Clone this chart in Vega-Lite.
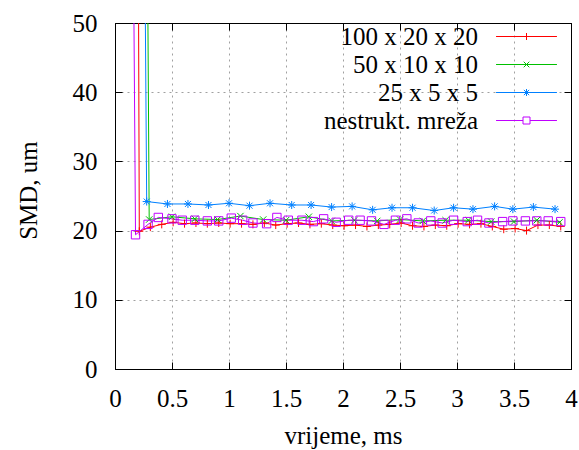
{
  "$schema": "https://vega.github.io/schema/vega-lite/v6.json",
  "width": 456,
  "height": 346,
  "autosize": "none",
  "padding": {"left": 115, "top": 23, "right": 8, "bottom": 81},
  "background": "white",
  "config": {
    "font": "Liberation Serif",
    "view": {"stroke": "#000", "strokeWidth": 1},
    "axis": {"labelFont": "Liberation Serif", "titleFont": "Liberation Serif", "labelFontSize": 25, "titleFontSize": 25, "titleFontWeight": "normal", "labelColor": "#000", "titleColor": "#000", "tickColor": "#000", "domainColor": "#000", "gridColor": "#a0a0a0", "gridDash": [2, 4], "gridWidth": 1, "tickSize": -7, "labelFlush": false},
    "legend": {"labelFont": "Liberation Serif"}
  },
  "data": {"values": [
    {"t": 0.205, "smd": 60, "series": "100 x 20 x 20"},
    {"t": 0.213, "smd": 19.9, "series": "100 x 20 x 20"},
    {"t": 0.31, "smd": 20.5, "series": "100 x 20 x 20"},
    {"t": 0.41, "smd": 20.9, "series": "100 x 20 x 20"},
    {"t": 0.51, "smd": 21.2, "series": "100 x 20 x 20"},
    {"t": 0.61, "smd": 21.0, "series": "100 x 20 x 20"},
    {"t": 0.71, "smd": 21.1, "series": "100 x 20 x 20"},
    {"t": 0.81, "smd": 21.0, "series": "100 x 20 x 20"},
    {"t": 0.91, "smd": 21.1, "series": "100 x 20 x 20"},
    {"t": 1.01, "smd": 21.0, "series": "100 x 20 x 20"},
    {"t": 1.11, "smd": 21.0, "series": "100 x 20 x 20"},
    {"t": 1.21, "smd": 20.9, "series": "100 x 20 x 20"},
    {"t": 1.31, "smd": 21.1, "series": "100 x 20 x 20"},
    {"t": 1.41, "smd": 20.8, "series": "100 x 20 x 20"},
    {"t": 1.51, "smd": 21.0, "series": "100 x 20 x 20"},
    {"t": 1.61, "smd": 21.1, "series": "100 x 20 x 20"},
    {"t": 1.71, "smd": 20.9, "series": "100 x 20 x 20"},
    {"t": 1.81, "smd": 21.0, "series": "100 x 20 x 20"},
    {"t": 1.91, "smd": 20.8, "series": "100 x 20 x 20"},
    {"t": 2.01, "smd": 20.7, "series": "100 x 20 x 20"},
    {"t": 2.11, "smd": 20.8, "series": "100 x 20 x 20"},
    {"t": 2.21, "smd": 20.6, "series": "100 x 20 x 20"},
    {"t": 2.31, "smd": 20.8, "series": "100 x 20 x 20"},
    {"t": 2.41, "smd": 20.9, "series": "100 x 20 x 20"},
    {"t": 2.51, "smd": 21.1, "series": "100 x 20 x 20"},
    {"t": 2.61, "smd": 20.7, "series": "100 x 20 x 20"},
    {"t": 2.71, "smd": 20.6, "series": "100 x 20 x 20"},
    {"t": 2.81, "smd": 20.8, "series": "100 x 20 x 20"},
    {"t": 2.91, "smd": 20.7, "series": "100 x 20 x 20"},
    {"t": 3.01, "smd": 21.0, "series": "100 x 20 x 20"},
    {"t": 3.11, "smd": 20.9, "series": "100 x 20 x 20"},
    {"t": 3.21, "smd": 21.0, "series": "100 x 20 x 20"},
    {"t": 3.31, "smd": 20.6, "series": "100 x 20 x 20"},
    {"t": 3.41, "smd": 20.2, "series": "100 x 20 x 20"},
    {"t": 3.51, "smd": 20.3, "series": "100 x 20 x 20"},
    {"t": 3.61, "smd": 20.0, "series": "100 x 20 x 20"},
    {"t": 3.71, "smd": 20.8, "series": "100 x 20 x 20"},
    {"t": 3.81, "smd": 20.8, "series": "100 x 20 x 20"},
    {"t": 3.91, "smd": 20.6, "series": "100 x 20 x 20"},

    {"t": 0.285, "smd": 60, "series": "50 x 10 x 10"},
    {"t": 0.30, "smd": 21.6, "series": "50 x 10 x 10"},
    {"t": 0.50, "smd": 22.0, "series": "50 x 10 x 10"},
    {"t": 0.70, "smd": 21.7, "series": "50 x 10 x 10"},
    {"t": 0.90, "smd": 21.6, "series": "50 x 10 x 10"},
    {"t": 1.10, "smd": 22.1, "series": "50 x 10 x 10"},
    {"t": 1.30, "smd": 21.6, "series": "50 x 10 x 10"},
    {"t": 1.50, "smd": 21.5, "series": "50 x 10 x 10"},
    {"t": 1.70, "smd": 22.0, "series": "50 x 10 x 10"},
    {"t": 1.90, "smd": 21.4, "series": "50 x 10 x 10"},
    {"t": 2.10, "smd": 21.5, "series": "50 x 10 x 10"},
    {"t": 2.30, "smd": 21.4, "series": "50 x 10 x 10"},
    {"t": 2.50, "smd": 21.6, "series": "50 x 10 x 10"},
    {"t": 2.70, "smd": 21.4, "series": "50 x 10 x 10"},
    {"t": 2.90, "smd": 21.5, "series": "50 x 10 x 10"},
    {"t": 3.10, "smd": 21.5, "series": "50 x 10 x 10"},
    {"t": 3.30, "smd": 21.3, "series": "50 x 10 x 10"},
    {"t": 3.50, "smd": 21.3, "series": "50 x 10 x 10"},
    {"t": 3.70, "smd": 21.5, "series": "50 x 10 x 10"},
    {"t": 3.90, "smd": 21.2, "series": "50 x 10 x 10"},

    {"t": 0.262, "smd": 60, "series": "25 x 5 x 5"},
    {"t": 0.278, "smd": 24.2, "series": "25 x 5 x 5"},
    {"t": 0.46, "smd": 23.85, "series": "25 x 5 x 5"},
    {"t": 0.64, "smd": 23.85, "series": "25 x 5 x 5"},
    {"t": 0.82, "smd": 23.7, "series": "25 x 5 x 5"},
    {"t": 1.00, "smd": 23.95, "series": "25 x 5 x 5"},
    {"t": 1.18, "smd": 23.6, "series": "25 x 5 x 5"},
    {"t": 1.36, "smd": 23.95, "series": "25 x 5 x 5"},
    {"t": 1.55, "smd": 23.7, "series": "25 x 5 x 5"},
    {"t": 1.72, "smd": 23.7, "series": "25 x 5 x 5"},
    {"t": 1.90, "smd": 23.4, "series": "25 x 5 x 5"},
    {"t": 2.08, "smd": 23.5, "series": "25 x 5 x 5"},
    {"t": 2.26, "smd": 23.0, "series": "25 x 5 x 5"},
    {"t": 2.43, "smd": 23.3, "series": "25 x 5 x 5"},
    {"t": 2.61, "smd": 23.3, "series": "25 x 5 x 5"},
    {"t": 2.80, "smd": 22.9, "series": "25 x 5 x 5"},
    {"t": 2.97, "smd": 23.3, "series": "25 x 5 x 5"},
    {"t": 3.14, "smd": 23.1, "series": "25 x 5 x 5"},
    {"t": 3.33, "smd": 23.5, "series": "25 x 5 x 5"},
    {"t": 3.49, "smd": 23.1, "series": "25 x 5 x 5"},
    {"t": 3.67, "smd": 23.4, "series": "25 x 5 x 5"},
    {"t": 3.86, "smd": 23.1, "series": "25 x 5 x 5"},

    {"t": 0.162, "smd": 60, "series": "nestrukt. mreža"},
    {"t": 0.18, "smd": 19.4, "series": "nestrukt. mreža"},
    {"t": 0.29, "smd": 20.9, "series": "nestrukt. mreža"},
    {"t": 0.38, "smd": 21.9, "series": "nestrukt. mreža"},
    {"t": 0.50, "smd": 21.7, "series": "nestrukt. mreža"},
    {"t": 0.59, "smd": 21.5, "series": "nestrukt. mreža"},
    {"t": 0.70, "smd": 21.5, "series": "nestrukt. mreža"},
    {"t": 0.81, "smd": 21.4, "series": "nestrukt. mreža"},
    {"t": 0.91, "smd": 21.4, "series": "nestrukt. mreža"},
    {"t": 1.02, "smd": 21.8, "series": "nestrukt. mreža"},
    {"t": 1.12, "smd": 21.5, "series": "nestrukt. mreža"},
    {"t": 1.21, "smd": 21.1, "series": "nestrukt. mreža"},
    {"t": 1.33, "smd": 21.0, "series": "nestrukt. mreža"},
    {"t": 1.42, "smd": 21.9, "series": "nestrukt. mreža"},
    {"t": 1.52, "smd": 21.5, "series": "nestrukt. mreža"},
    {"t": 1.64, "smd": 21.5, "series": "nestrukt. mreža"},
    {"t": 1.74, "smd": 21.3, "series": "nestrukt. mreža"},
    {"t": 1.83, "smd": 21.7, "series": "nestrukt. mreža"},
    {"t": 1.94, "smd": 21.2, "series": "nestrukt. mreža"},
    {"t": 2.05, "smd": 21.5, "series": "nestrukt. mreža"},
    {"t": 2.15, "smd": 21.5, "series": "nestrukt. mreža"},
    {"t": 2.25, "smd": 21.4, "series": "nestrukt. mreža"},
    {"t": 2.36, "smd": 20.9, "series": "nestrukt. mreža"},
    {"t": 2.46, "smd": 21.5, "series": "nestrukt. mreža"},
    {"t": 2.56, "smd": 21.7, "series": "nestrukt. mreža"},
    {"t": 2.66, "smd": 21.1, "series": "nestrukt. mreža"},
    {"t": 2.77, "smd": 21.4, "series": "nestrukt. mreža"},
    {"t": 2.87, "smd": 21.1, "series": "nestrukt. mreža"},
    {"t": 2.97, "smd": 21.5, "series": "nestrukt. mreža"},
    {"t": 3.09, "smd": 21.3, "series": "nestrukt. mreža"},
    {"t": 3.18, "smd": 21.5, "series": "nestrukt. mreža"},
    {"t": 3.28, "smd": 21.1, "series": "nestrukt. mreža"},
    {"t": 3.40, "smd": 21.3, "series": "nestrukt. mreža"},
    {"t": 3.49, "smd": 21.4, "series": "nestrukt. mreža"},
    {"t": 3.60, "smd": 21.4, "series": "nestrukt. mreža"},
    {"t": 3.70, "smd": 21.4, "series": "nestrukt. mreža"},
    {"t": 3.80, "smd": 21.4, "series": "nestrukt. mreža"},
    {"t": 3.91, "smd": 21.3, "series": "nestrukt. mreža"}
  ]},
  "encoding": {
    "x": {"field": "t", "type": "quantitative", "scale": {"domain": [0, 4], "nice": false, "zero": false}},
    "y": {"field": "smd", "type": "quantitative", "scale": {"domain": [0, 50], "nice": false}},
    "color": {"field": "series", "type": "nominal", "legend": null,
      "scale": {"domain": ["100 x 20 x 20", "50 x 10 x 10", "25 x 5 x 5", "nestrukt. mreža"], "range": ["#ff0000", "#00c000", "#0080ff", "#c000ff"]}}
  },
  "layer": [
    {
      "mark": {"type": "line", "clip": true, "strokeWidth": 1},
      "encoding": {
        "x": {"field": "t", "type": "quantitative",
          "axis": {"orient": "bottom", "values": [0, 0.5, 1, 1.5, 2, 2.5, 3, 3.5, 4], "format": "~g", "grid": true, "domain": true, "labelPadding": 24, "title": "vrijeme, ms", "titleY": 54, "titleBaseline": "top"}},
        "y": {"field": "smd", "type": "quantitative",
          "axis": {"orient": "left", "values": [0, 10, 20, 30, 40, 50], "grid": true, "domain": true, "labelPadding": 25, "title": "SMD, um", "titleAngle": 270, "titleX": -99, "titleY": 167, "titleBaseline": "top", "titleAlign": "center"}},
        "color": {"field": "series", "type": "nominal",
          "legend": {"orient": "none", "legendX": 0, "legendY": 1, "title": null, "padding": 0, "labelAlign": "right", "labelBaseline": "middle", "labelOffset": -61, "symbolOffset": 399, "symbolSize": 49, "symbolStrokeWidth": 1, "labelFontSize": 25, "labelFont": "Liberation Serif", "labelColor": "#000", "rowPadding": 2, "labelLimit": 0,
            "encode": {
              "labels": {"update": {"align": {"value": "right"}}},
              "symbols": {"update": {
                "shape": {"signal": "datum.value === '100 x 20 x 20' ? 'M-8.7,0L8.7,0M0,-1L0,1' : datum.value === '50 x 10 x 10' ? 'M-8.7,0L8.7,0M-0.8,-0.8L0.8,0.8M-0.8,0.8L0.8,-0.8' : datum.value === '25 x 5 x 5' ? 'M-8.7,0L8.7,0M0,-1L0,1M-0.75,-0.75L0.75,0.75M-0.75,0.75L0.75,-0.75' : 'M-8.7,0L-1,0M1,0L8.7,0M-1,-1L1,-1L1,1L-1,1Z'"},
                "fill": {"value": "transparent"},
                "strokeWidth": {"value": 1}
              }}
            }}
        }
      }
    },
    {
      "transform": [{"filter": "datum.series === '100 x 20 x 20'"}],
      "mark": {"type": "point", "clip": true, "filled": false, "strokeWidth": 1, "size": 64, "opacity": 1, "shape": "M-1,0L1,0M0,-1L0,1"},
      "encoding": {
        "x": {"field": "t", "type": "quantitative", "axis": {"orient": "top", "values": [0, 0.5, 1, 1.5, 2, 2.5, 3, 3.5, 4], "labels": false, "title": null, "grid": false, "domain": true}},
        "y": {"field": "smd", "type": "quantitative", "axis": {"orient": "right", "values": [0, 10, 20, 30, 40, 50], "labels": false, "title": null, "grid": false, "domain": true}}
      }
    },
    {
      "transform": [{"filter": "datum.series === '50 x 10 x 10'"}],
      "mark": {"type": "point", "clip": true, "filled": false, "strokeWidth": 1, "size": 64, "opacity": 1, "shape": "M-0.8,-0.8L0.8,0.8M-0.8,0.8L0.8,-0.8"},
      "encoding": {
        "x": {"field": "t", "type": "quantitative", "axis": null},
        "y": {"field": "smd", "type": "quantitative", "axis": null}
      }
    },
    {
      "transform": [{"filter": "datum.series === '25 x 5 x 5'"}],
      "mark": {"type": "point", "clip": true, "filled": false, "strokeWidth": 1, "size": 64, "opacity": 1, "shape": "M-1,0L1,0M0,-1L0,1M-0.75,-0.75L0.75,0.75M-0.75,0.75L0.75,-0.75"},
      "encoding": {
        "x": {"field": "t", "type": "quantitative", "axis": null},
        "y": {"field": "smd", "type": "quantitative", "axis": null}
      }
    },
    {
      "transform": [{"filter": "datum.series === 'nestrukt. mreža'"}],
      "mark": {"type": "point", "clip": true, "filled": false, "strokeWidth": 1, "size": 70, "opacity": 1, "shape": "square"},
      "encoding": {
        "x": {"field": "t", "type": "quantitative", "axis": null},
        "y": {"field": "smd", "type": "quantitative", "axis": null}
      }
    }
  ],
  "resolve": {"axis": {"x": "independent", "y": "independent"}}
}
